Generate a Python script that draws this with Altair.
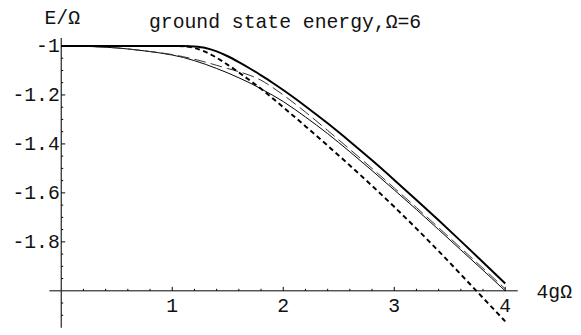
import altair as alt
import pandas as pd

# ---- data ----
x_vals = [0, 0.25, 0.5, 0.75, 1.0, 1.1, 1.2, 1.3, 1.4, 1.5, 1.6, 1.7, 1.8, 1.9,
          2.0, 2.2, 2.4, 2.6, 2.8, 3.0, 3.2, 3.4, 3.6, 3.8, 4.0]
thick_solid = [-1, -1, -1, -1, -1, -1.0, -1.002, -1.008, -1.022, -1.042, -1.066,
               -1.092, -1.12, -1.149, -1.18, -1.246, -1.316, -1.39, -1.467, -1.547,
               -1.629, -1.712, -1.797, -1.883, -1.97]
thick_dashed = [-1, -1, -1, -1, -1, -1.001, -1.008, -1.024, -1.048, -1.077, -1.108,
                -1.141, -1.175, -1.212, -1.25, -1.328, -1.407, -1.488, -1.571, -1.657,
                -1.746, -1.838, -1.933, -2.029, -2.125]
thin_solid = [-1, -1.002, -1.008, -1.02, -1.037, -1.047, -1.06, -1.075, -1.092, -1.11,
              -1.13, -1.151, -1.175, -1.2, -1.227, -1.29, -1.358, -1.432, -1.509,
              -1.588, -1.668, -1.75, -1.833, -1.916, -2.0]
thin_long_dash = [-1, -1.002, -1.008, -1.02, -1.035, -1.044, -1.054, -1.066, -1.079,
                  -1.092, -1.105, -1.12, -1.14, -1.168, -1.2, -1.27, -1.345, -1.422,
                  -1.5, -1.58, -1.66, -1.742, -1.825, -1.908, -1.992]

x_major = [1, 2, 3, 4]
x_major_labels = ["1", "2", "3", "4"]
x_minor = [0.2, 0.4, 0.6, 0.8, 1.2, 1.4, 1.6, 1.8, 2.2, 2.4, 2.6, 2.8,
           3.2, 3.4, 3.6, 3.8]
y_major = [-1.0, -1.2, -1.4, -1.6, -1.8]
y_major_labels = ["-1", "-1.2", "-1.4", "-1.6", "-1.8"]
y_minor = [-1.05, -1.1, -1.15, -1.25, -1.3, -1.35, -1.45, -1.5, -1.55,
           -1.65, -1.7, -1.75, -1.85, -1.9, -1.95, -2.05, -2.1]

title_text = "ground state energy,\u03a9=6"
y_title = "E/\u03a9"
x_title = "4g\u03a9"

X_MIN, X_MAX = -0.1066, 4.113
Y_MIN, Y_MAX = -2.151, -0.967
X_AXIS_AT = -2.0   # y value where the horizontal axis sits
Y_AXIS_AT = 0.0    # x value where the vertical axis sits

FONT = "Liberation Mono"
FS = 20

xs = alt.Scale(domain=[X_MIN, X_MAX], nice=False, zero=False)
ys = alt.Scale(domain=[Y_MIN, Y_MAX], nice=False, zero=False)

curves = pd.DataFrame({"x": x_vals, "a": thick_solid, "b": thick_dashed,
                       "c": thin_solid, "d": thin_long_dash})


def X(f):
    return alt.X(f, type="quantitative", scale=xs, axis=None)


def Y(f):
    return alt.Y(f, type="quantitative", scale=ys, axis=None)


def curve(col, width, dash=None, color="black"):
    kw = dict(strokeWidth=width, color=color, interpolate="monotone")
    if dash:
        kw["strokeDash"] = dash
    return alt.Chart(curves).mark_line(**kw).encode(x=X("x"), y=Y(col))


def label(df, **kw):
    base = dict(font=FONT, fontSize=FS, baseline="alphabetic", color="#111")
    base.update(kw)
    return alt.Chart(df).mark_text(**base).encode(x=X("x"), y=Y("y"), text="lab:N")


layers = []

# axes lines
xline = pd.DataFrame({"a": [X_MIN], "b": [X_MAX], "y": [X_AXIS_AT]})
layers.append(alt.Chart(xline).mark_rule(color="black", strokeWidth=1).encode(
    x=X("a"), x2="b", y=Y("y")))
yline = pd.DataFrame({"x": [Y_AXIS_AT], "a": [Y_MIN], "b": [Y_MAX]})
layers.append(alt.Chart(yline).mark_rule(color="#222", strokeWidth=1.2).encode(
    x=X("x"), y=Y("a"), y2="b"))

# x ticks (pointing up)
xt_maj = pd.DataFrame({"x": x_major, "y": X_AXIS_AT, "lab": x_major_labels})
xt_min = pd.DataFrame({"x": x_minor, "y": X_AXIS_AT})
layers.append(alt.Chart(xt_maj).mark_rule(color="black", y2Offset=-4).encode(
    x=X("x"), y=Y("y"), y2="y"))
layers.append(alt.Chart(xt_min).mark_rule(color="black", y2Offset=-2).encode(
    x=X("x"), y=Y("y"), y2="y"))
layers.append(label(xt_maj, align="center", dy=21.5))

# y ticks (pointing right)
yt_maj = pd.DataFrame({"y": y_major, "x": Y_AXIS_AT, "lab": y_major_labels})
yt_min = pd.DataFrame({"y": y_minor, "x": Y_AXIS_AT})
layers.append(alt.Chart(yt_maj).mark_rule(color="black", x2Offset=4).encode(
    y=Y("y"), x=X("x"), x2="x"))
layers.append(alt.Chart(yt_min).mark_rule(color="black", x2Offset=2).encode(
    y=Y("y"), x=X("x"), x2="x"))
layers.append(label(yt_maj, align="right", dx=-1.5, dy=6.5))

# axis titles and plot title
layers.append(label(pd.DataFrame({"x": [X_MAX], "y": [X_AXIS_AT], "lab": [x_title]}),
                    align="left", dx=19, dy=7))
layers.append(label(pd.DataFrame({"x": [Y_AXIS_AT], "y": [Y_MAX], "lab": [y_title]}),
                    align="left", dx=-17, dy=-14.5))
layers.append(label(pd.DataFrame({"x": [(X_MIN + X_MAX) / 2], "y": [Y_MAX],
                                  "lab": [title_text]}),
                    align="center", dx=1.5, dy=-10))

# curves
layers.append(curve("c", 1))
layers.append(curve("d", 1, dash=[12, 5], color="#333"))
layers.append(curve("b", 2, dash=[5, 3.5]))
layers.append(curve("a", 2))

chart = alt.layer(*layers).properties(
    width=475, height=294,
    padding={"left": 42, "top": 28, "right": 56, "bottom": 5},
    autosize=alt.AutoSizeParams(type="none"),
    background="white",
).configure_view(strokeWidth=0)

chart.save("out.html", embed_options={"renderer": "svg", "actions": False})
